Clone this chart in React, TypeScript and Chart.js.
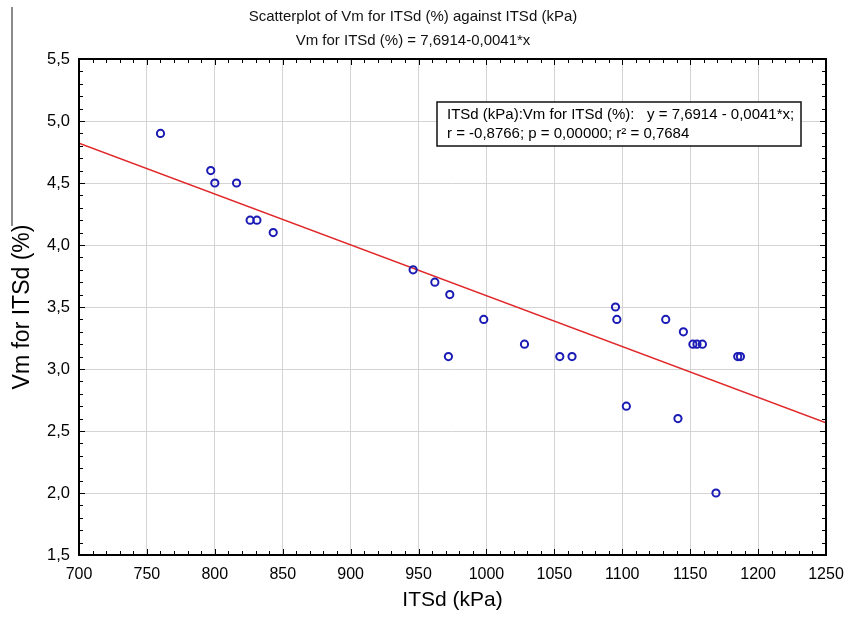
import { useEffect, useRef } from "react";
import { Chart, registerables } from "chart.js";

Chart.register(...registerables);

// ---- data ----
const itsdKpa = [760, 797, 800, 816, 826, 831, 843, 946, 962, 973, 972, 998, 1028, 1054, 1063, 1095, 1096, 1103, 1132, 1145, 1152, 1155, 1159, 1141, 1169, 1185, 1187];
const vmPct = [4.9, 4.6, 4.5, 4.5, 4.2, 4.2, 4.1, 3.8, 3.7, 3.6, 3.1, 3.4, 3.2, 3.1, 3.1, 3.5, 3.4, 2.7, 3.4, 3.3, 3.2, 3.2, 3.2, 2.6, 2.0, 3.1, 3.1];
const fitX = [700, 1250];
const fitY = [4.8214, 2.5664];
const titleLines = ["Scatterplot of Vm for ITSd (%) against ITSd (kPa)", "Vm for ITSd (%) = 7,6914-0,0041*x"];
const boxLines = ["ITSd (kPa):Vm for ITSd (%):   y = 7,6914 - 0,0041*x;", "r = -0,8766; p = 0,00000; r\u00B2 = 0,7684"];
const xTitle = "ITSd (kPa)";
const yTitle = "Vm for ITSd (%)";

const SANS = "'Liberation Sans', Arial, sans-serif";

const framePlugin = {
  id: "frame",
  beforeDraw(chart: any) {
    const ctx = chart.ctx;
    ctx.save();
    ctx.fillStyle = "#ffffff";
    ctx.fillRect(0, 0, chart.width, chart.height);
    ctx.strokeStyle = "#8c8c8c";
    ctx.lineWidth = 2;
    ctx.beginPath();
    ctx.moveTo(12, 7);
    ctx.lineTo(12, 226);
    ctx.stroke();
    ctx.restore();
  },
  afterDraw(chart: any) {
    const ctx = chart.ctx;
    const a = chart.chartArea;
    const xs = chart.scales.x;
    const ys = chart.scales.y;
    ctx.save();
    ctx.strokeStyle = "#000";
    ctx.lineWidth = 1;
    ctx.beginPath();
    for (let v = 700; v <= 1250.001; v += 10) {
      const px = Math.round(xs.getPixelForValue(v)) + 0.5;
      const len = Math.abs(v % 50) < 0.01 ? 6 : 4;
      ctx.moveTo(px, a.bottom);
      ctx.lineTo(px, a.bottom - len);
      ctx.moveTo(px, a.top);
      ctx.lineTo(px, a.top + len);
    }
    for (let i = 15; i <= 55; i++) {
      const v = i / 10;
      const py = Math.round(ys.getPixelForValue(v)) + 0.5;
      const len = i % 5 === 0 ? 6 : 4;
      ctx.moveTo(a.left, py);
      ctx.lineTo(a.left + len, py);
      ctx.moveTo(a.right, py);
      ctx.lineTo(a.right - len, py);
    }
    ctx.stroke();
    ctx.lineWidth = 2;
    ctx.strokeRect(a.left, a.top, a.right - a.left, a.bottom - a.top);

    // regression info box
    const bx = a.left + 358;
    const by = a.top + 43;
    const bw = 364;
    const bh = 44;
    ctx.fillStyle = "#fff";
    ctx.fillRect(bx, by, bw, bh);
    ctx.lineWidth = 1.5;
    ctx.strokeStyle = "#111";
    ctx.strokeRect(bx, by, bw, bh);
    ctx.fillStyle = "#000";
    ctx.font = "15px " + SANS;
    ctx.textBaseline = "middle";
    ctx.textAlign = "left";
    ctx.fillText(boxLines[0], bx + 10, by + 13);
    ctx.fillText(boxLines[1], bx + 10, by + 32);
    ctx.restore();
  },
};

export default function App() {
  const ref = useRef<HTMLCanvasElement | null>(null);
  useEffect(() => {
    document.body.style.margin = "0";
    const canvas = ref.current;
    if (!canvas) return;
    const points = itsdKpa.map((x, i) => ({ x, y: vmPct[i] }));
    const fit = fitX.map((x, i) => ({ x, y: fitY[i] }));
    const chart = new Chart(canvas, {
      type: "scatter",
      data: {
        datasets: [
          {
            type: "scatter",
            label: "Vm",
            data: points,
            pointStyle: "circle",
            pointRadius: 3.6,
            pointBorderWidth: 2,
            borderColor: "#1a1ab4",
            backgroundColor: "rgba(255,255,255,0)",
            order: 0,
          } as any,
          {
            type: "line",
            label: "fit",
            data: fit,
            borderColor: "#e0282a",
            borderWidth: 1.6,
            pointRadius: 0,
            fill: false,
            order: 1,
          } as any,
        ],
      },
      options: {
        responsive: false,
        animation: false,
        devicePixelRatio: 1,
        layout: { padding: { left: 0, right: 21, top: 0, bottom: 0 } },
        plugins: {
          legend: { display: false },
          tooltip: { enabled: false },
          title: {
            display: true,
            text: titleLines,
            color: "#111",
            font: { family: SANS, size: 15, weight: "normal", lineHeight: 1.6 },
            padding: { top: 5, bottom: 6 },
          },
        },
        scales: {
          x: {
            type: "linear",
            min: 700,
            max: 1250,
            afterFit: (s: any) => {
              s.height = 63;
              s.paddingLeft = 0;
              s.paddingRight = 0;
            },
            ticks: {
              stepSize: 50,
              autoSkip: false,
              maxRotation: 0,
              padding: 10,
              color: "#000",
              font: { family: SANS, size: 16 },
              callback: (v: any) => String(v),
            },
            grid: { color: "#d4d4d4", lineWidth: 1, drawTicks: false },
            border: { display: false },
            title: {
              display: true,
              text: xTitle,
              color: "#000",
              font: { family: SANS, size: 21 },
              padding: { top: 0, bottom: 5 },
            },
          },
          y: {
            type: "linear",
            min: 1.5,
            max: 5.5,
            afterFit: (s: any) => {
              s.width = 79;
              s.paddingTop = 0;
              s.paddingBottom = 0;
            },
            ticks: {
              stepSize: 0.5,
              autoSkip: false,
              padding: 9,
              color: "#000",
              font: { family: SANS, size: 16.5 },
              callback: (v: any) => Number(v).toFixed(1).replace(".", ","),
            },
            grid: { color: "#d4d4d4", lineWidth: 1, drawTicks: false },
            border: { display: false },
            title: {
              display: true,
              text: yTitle,
              color: "#000",
              font: { family: SANS, size: 23 },
              padding: { top: 9, bottom: 0 },
            },
          },
        },
      } as any,
      plugins: [framePlugin],
    });
    return () => chart.destroy();
  }, []);
  return (
    <div style={{ width: 847, height: 618 }}>
      <canvas ref={ref} width={847} height={618} />
    </div>
  );
}
